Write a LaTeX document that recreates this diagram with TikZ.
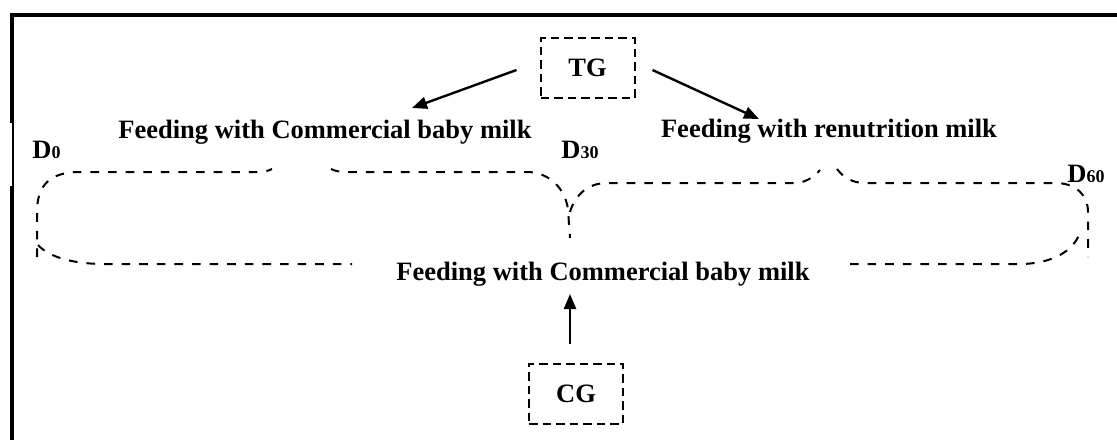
\documentclass[tikz,border=0pt]{standalone}
\usepackage{fontspec}
\setmainfont{Liberation Serif}
\usetikzlibrary{arrows.meta,calc}

\newcommand{\daysub}[1]{\raisebox{-0.4pt}{\fontsize{9}{10}\selectfont #1}}

\begin{document}
\begin{tikzpicture}[x=0.5pt, y=-0.5pt,
        txt/.style={font=\fontsize{13.25}{16}\selectfont\bfseries, inner sep=0pt},
        grp/.style={txt, draw, line width=1pt, dash pattern=on 4.25pt off 2.5pt,
                    minimum width=47pt, minimum height=30pt},
        brace/.style={line width=1pt, dash pattern=on 4.3pt off 4.5pt},
        arr/.style={line width=1.2pt, -{Triangle[length=7.5pt,width=6pt]}}]
                \useasboundingbox (0,0) rectangle (1117,439);
                \clip (0,0) rectangle (1117,439);

                % Frame
                \draw[line width=2pt] (1130,14.5) -- (12,14.5) -- (12,123);
                \draw[line width=0.75pt] (13.2,123) -- (13.2,186);
                \draw[line width=2pt] (12,186) -- (12,460);

                % Groups
                \node[grp] (tg) at (587.5,68) {TG};
                \node[grp] (cg) at (576,393.5) {CG};

                % Feeding
                \node[txt, anchor=base] (fbA) at (325,138) {Feeding with Commercial baby milk};
                \node[txt, anchor=base] (fbB) at (829,137) {Feeding with renutrition milk};
                \node[txt, anchor=base] (fbC) at (603,280) {Feeding with Commercial baby milk};

                % Days
                \node[txt, anchor=base west] (dzero) at (32,158) {D\daysub{0}};
                \node[txt, anchor=base west] (dthirty) at (561,158) {D\daysub{30}};
                \node[txt, anchor=base west] (dsixty) at (1067,182) {D\daysub{60}};

                % Braces
                \draw[brace] (37,257) -- (37,212) .. controls (37,185) and (50,172) .. (80,172)
                    -- (258,172) .. controls (264,172) and (268,171) .. (272,169);
                \draw[brace] (331,169) .. controls (335,171) and (340,172) .. (346,172)
                    -- (527,172) .. controls (550,172) and (566,190) .. (568,210) -- (570,238);
                \draw[brace] (570,212) .. controls (575,195) and (588,183) .. (607,183)
                    -- (795,183) .. controls (805,183) and (814,177) .. (820,170);
                \draw[brace] (837,169) .. controls (843,177) and (852,183) .. (865,183)
                    -- (1055,183) .. controls (1076,183) and (1088,195) .. (1088,212) -- (1088,257);
                \draw[brace] (38,245) .. controls (50,258) and (75,264) .. (105,264) -- (352,264);
                \draw[brace] (850,264) -- (1020,264) .. controls (1050,264) and (1074,252) .. (1080,232);

                % Arrows
                \draw[arr] ($(tg.west)+(-23,2)$) -- ($(fbA.base)+(87,-30)$);
                \draw[arr] ($(tg.east)+(17,2)$) -- ($(fbB.base)+(-70,-18)$);
                \draw[arr] ($(cg.north)+(-6,-19)$) -- ($(fbC.base)+(-33,14)$);
            \end{tikzpicture}
\end{document}
